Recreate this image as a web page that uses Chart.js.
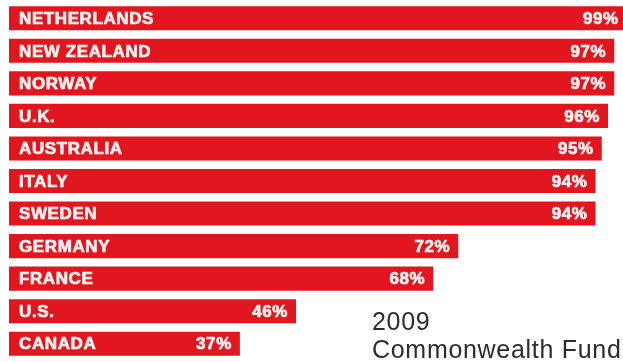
<!DOCTYPE html>
<html>
<head>
<meta charset="utf-8">
<script src="https://cdn.jsdelivr.net/npm/chart.js@4"></script>
<style>
    html, body { margin: 0; padding: 0; background: #fff; overflow: hidden; }
    #wrap { position: relative; width: 623px; height: 362px; }
    #note {
        position: absolute; left: 372px; top: 307px;
        font: 25px "Liberation Sans", Arial, sans-serif; line-height: 28px;
        letter-spacing: 0.7px; color: #2b2b33; white-space: nowrap;
    }
</style>
</head>
<body>
<div id="wrap">
    <canvas id="chart" width="623" height="362"></canvas>
    <div id="note">2009<br>Commonwealth Fund</div>
</div>
<script>
const countries = ["NETHERLANDS", "NEW ZEALAND", "NORWAY", "U.K.", "AUSTRALIA", "ITALY", "SWEDEN", "GERMANY", "FRANCE", "U.S.", "CANADA"];
const percents = [99, 97, 97, 96, 95, 94, 94, 72, 68, 46, 37];

const barRed = "#e1161e";
const labelWhite = "#fdf0f0";

// draws country names on the left and the % at the end of each bar
const barLabels = {
    id: "barLabels",
    afterDatasetsDraw: function (chart) {
        const ctx = chart.ctx;
        const area = chart.chartArea;
        const meta = chart.getDatasetMeta(0);
        ctx.save();
        ctx.fillStyle = labelWhite;
        ctx.strokeStyle = labelWhite;
        ctx.lineWidth = 0.7;
        ctx.lineJoin = "round";
        ctx.font = "bold 17px 'Liberation Sans', Arial, sans-serif";
        ctx.letterSpacing = "0.6px";
        ctx.textBaseline = "middle";
        meta.data.forEach(function (bar, i) {
            ctx.textAlign = "left";
            ctx.fillText(countries[i], area.left + 10, bar.y + 1);
            ctx.strokeText(countries[i], area.left + 10, bar.y + 1);
            ctx.textAlign = "right";
            ctx.fillText(percents[i] + "%", bar.x - 8, bar.y + 1);
            ctx.strokeText(percents[i] + "%", bar.x - 8, bar.y + 1);
        });
        ctx.restore();
    }
};

new Chart(document.getElementById("chart"), {
    type: "bar",
    data: {
        labels: countries,
        datasets: [
            {
                data: percents,
                backgroundColor: barRed,
                borderWidth: 0,
                categoryPercentage: 1,
                barPercentage: 0.74,
            },
        ],
    },
    options: {
        indexAxis: "y",
        responsive: false,
        animation: false,
        events: [],
        layout: { padding: { left: 9, right: 0, top: 2, bottom: 2 } },
        plugins: {
            legend: { display: false },
            tooltip: { enabled: false },
        },
        scales: {
            x: { display: false, min: 0, max: 98.4 },
            y: { display: false },
        },
    },
    plugins: [barLabels],
});
</script>
</body>
</html>
